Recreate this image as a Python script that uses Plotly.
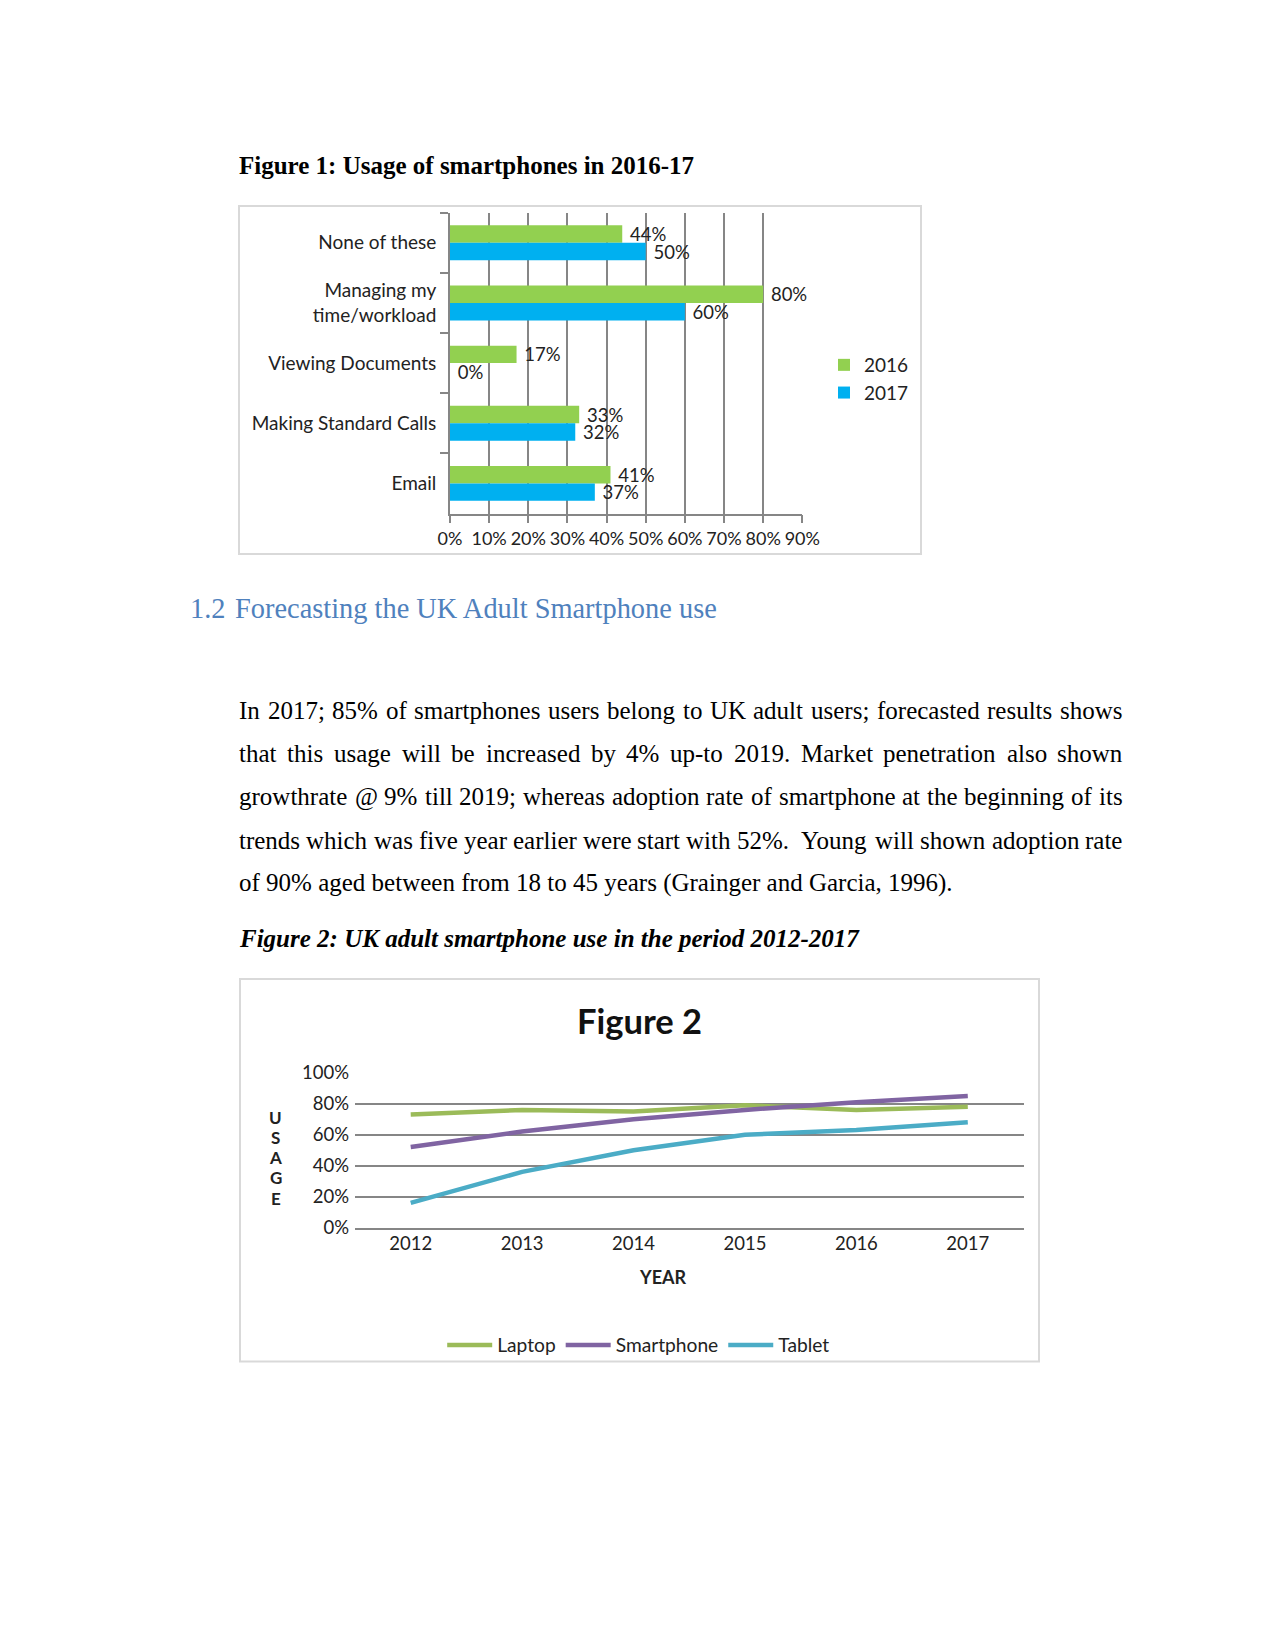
import plotly.graph_objects as go

W, H = 1275, 1651


def px(x):
    return x / W


def py(y):
    return 1 - y / H


# ---------------- data ----------------
fig1_categories = ["None of these", "Managing my<br>time/workload", "Viewing Documents",
                   "Making Standard Calls", "Email"]
fig1_2016 = [0.44, 0.80, 0.17, 0.33, 0.41]
fig1_2017 = [0.50, 0.60, 0.00, 0.32, 0.37]

fig2_years = ["2012", "2013", "2014", "2015", "2016", "2017"]
fig2_laptop = [0.73, 0.76, 0.75, 0.79, 0.76, 0.78]
fig2_smartphone = [0.52, 0.62, 0.70, 0.76, 0.81, 0.85]
fig2_tablet = [0.16, 0.36, 0.50, 0.60, 0.63, 0.68]

paragraph_lines = [
    "In 2017; 85% of smartphones users belong to UK adult users; forecasted results shows",
    "that this usage will be increased by 4% up-to 2019. Market penetration also shown",
    "growthrate @ 9% till 2019; whereas adoption rate of smartphone at the beginning of its",
    "trends which was five year earlier were start with 52%.  Young will shown adoption rate",
    "of 90% aged between from 18 to 45 years (Grainger and Garcia, 1996).",
]

# ---------------- styles ----------------
CHART_FONT = "Lato"
DOC_FONT = "Liberation Serif"
TXT = "#222222"
GRID = "#868686"
BOX = "#D9D9D9"

fig = go.Figure()

# Figure 1 bars
for name, vals, col in [("2016", fig1_2016, "#92D050"), ("2017", fig1_2017, "#00B0F0")]:
    fig.add_trace(go.Bar(
        y=fig1_categories, x=vals, orientation="h", name=name,
        marker=dict(color=col, line=dict(width=0)),
        texttemplate="\u00a0%{x:.0%}", textposition="outside", constraintext="none",
        textfont=dict(family=CHART_FONT, size=18.5, color=TXT), cliponaxis=False,
        xaxis="x", yaxis="y", legend="legend", hoverinfo="skip"))

# Figure 2 lines
for name, vals, col in [("Laptop", fig2_laptop, "#9BBB59"),
                        ("Smartphone", fig2_smartphone, "#8064A2"),
                        ("Tablet", fig2_tablet, "#4BACC6")]:
    fig.add_trace(go.Scatter(
        x=fig2_years, y=vals, mode="lines", name=name,
        line=dict(color=col, width=4.5), cliponaxis=False,
        xaxis="x2", yaxis="y2", legend="legend2", hoverinfo="skip"))

# ---------------- text ----------------
annotations = []


def add_text(text, x, y, size, family, color="black", xanchor="left"):
    annotations.append(dict(
        text=text, x=px(x), y=py(y), xref="paper", yref="paper",
        xanchor=xanchor, yanchor="middle", showarrow=False,
        borderpad=0, borderwidth=0,
        font=dict(family=family, size=size, color=color)))


# Times / Liberation Serif advance widths (per 1000 em)
TW = {' ': 250, '!': 333, '%': 833, '(': 333, ')': 333, ',': 250, '-': 333, '.': 250,
      ';': 278, ':': 278, '@': 921,
      'A': 722, 'B': 667, 'C': 667, 'D': 722, 'E': 611, 'F': 556, 'G': 722, 'H': 722,
      'I': 333, 'J': 389, 'K': 722, 'L': 611, 'M': 889, 'N': 722, 'O': 722, 'P': 556,
      'Q': 722, 'R': 667, 'S': 556, 'T': 611, 'U': 722, 'V': 722, 'W': 944, 'X': 722,
      'Y': 722, 'Z': 611,
      'a': 444, 'b': 500, 'c': 444, 'd': 500, 'e': 444, 'f': 333, 'g': 500, 'h': 500,
      'i': 278, 'j': 278, 'k': 500, 'l': 278, 'm': 778, 'n': 500, 'o': 500, 'p': 500,
      'q': 500, 'r': 333, 's': 389, 't': 278, 'u': 500, 'v': 500, 'w': 722, 'x': 500,
      'y': 500, 'z': 444}
for d in "0123456789":
    TW[d] = 500


def text_width(s, size):
    return sum(TW.get(c, 500) for c in s) * size / 1000.0


# Figure 1 caption
add_text("<b>Figure 1: Usage of smartphones in 2016-17</b>", 239.3, 165.5, 25, DOC_FONT)

# Heading
HEAD_C = "#4F81BD"
add_text("1.2", 189.5, 608.2, 28.4, DOC_FONT, HEAD_C)
add_text("Forecasting the UK Adult Smartphone use", 235, 608.2, 28.4, DOC_FONT, HEAD_C)

# Justified paragraph
P_LEFT, P_RIGHT, P_SIZE = 239.3, 1122.7, 25
line_centers = [710.4, 753.6, 796.8, 840.0, 883.2]
for i, (line, yc) in enumerate(zip(paragraph_lines, line_centers)):
    if i == len(paragraph_lines) - 1:
        add_text(line, P_LEFT, yc, P_SIZE, DOC_FONT)
        continue
    words = line.split(" ")
    widths = [text_width(w, P_SIZE) for w in words]
    gap = (P_RIGHT - P_LEFT - sum(widths)) / (len(words) - 1)
    cx = P_LEFT
    for w, wd in zip(words, widths):
        if w:
            add_text(w, cx, yc, P_SIZE, DOC_FONT)
        cx += wd + gap

# Figure 2 caption
add_text("<b><i>Figure 2: UK adult smartphone use in the period 2012-2017</i></b>",
         239.3, 938.8, 25, DOC_FONT)

# Figure 2 chart title and axis titles
add_text("<b>Figure 2</b>", 639, 1021, 34.5, CHART_FONT, "#111111", xanchor="center")
add_text("<b>YEAR</b>", 663, 1276.5, 18, CHART_FONT, TXT, xanchor="center")
for k, letter in enumerate("USAGE"):
    add_text("<b>%s</b>" % letter, 275.7, 1117 + k * 20.25, 17, CHART_FONT, TXT,
             xanchor="center")

# ---------------- boxes ----------------
shapes = [
    dict(type="rect", xref="paper", yref="paper", x0=px(239), x1=px(921),
         y0=py(206), y1=py(554), line=dict(color=BOX, width=2), fillcolor="rgba(0,0,0,0)",
         layer="below"),
    dict(type="rect", xref="paper", yref="paper", x0=px(240), x1=px(1039),
         y0=py(979), y1=py(1361.5), line=dict(color=BOX, width=2),
         fillcolor="rgba(0,0,0,0)", layer="below"),
]

fig.update_layout(
    width=W, height=H, autosize=False,
    margin=dict(l=0, r=0, t=0, b=0, pad=0, autoexpand=False),
    paper_bgcolor="white", plot_bgcolor="white",
    font=dict(family=CHART_FONT, color=TXT),
    barmode="group", bargap=0.42, bargroupgap=0,
    hovermode=False,
    annotations=annotations, shapes=shapes,
    xaxis=dict(
        domain=[px(450), px(802.3)], range=[0, 0.9], dtick=0.1, tick0=0,
        tickformat=".0%", showgrid=True, gridcolor=GRID, gridwidth=1.8,
        showline=True, linecolor=GRID, linewidth=1.8, zeroline=False,
        ticks="outside", ticklen=8, tickwidth=1.8, tickcolor=GRID, tickangle=0,
        tickfont=dict(family=CHART_FONT, size=18, color=TXT), automargin=False,
        anchor="y", fixedrange=True),
    yaxis=dict(
        domain=[py(513.5), py(212.7)], type="category", autorange="reversed",
        showline=True, linecolor=GRID, linewidth=1.8, showgrid=False,
        ticks="outside", tickson="boundaries", ticklen=8, tickwidth=1.8,
        tickcolor=GRID, ticklabelstandoff=8, automargin=False,
        tickfont=dict(family=CHART_FONT, size=19, color=TXT),
        anchor="x", fixedrange=True),
    xaxis2=dict(
        domain=[px(355), px(1023.5)], type="category", range=[-0.5, 5.5],
        showgrid=False, showline=True, linecolor=GRID, linewidth=1.8,
        ticks="", tickangle=0, ticklabelstandoff=-2,
        tickfont=dict(family=CHART_FONT, size=18.5, color=TXT),
        automargin=False, anchor="y2", fixedrange=True),
    yaxis2=dict(
        domain=[py(1227.7), py(1072.7)], range=[0, 1], dtick=0.2, tick0=0,
        tickformat=".0%", showgrid=True, gridcolor=GRID, gridwidth=1.8,
        zeroline=False, showline=False, ticks="", ticklabelstandoff=5,
        tickfont=dict(family=CHART_FONT, size=18.5, color=TXT), automargin=False,
        anchor="x2", fixedrange=True),
    legend=dict(
        x=px(824), y=py(379), xanchor="left", yanchor="middle",
        orientation="v", bgcolor="rgba(0,0,0,0)", borderwidth=0,
        font=dict(family=CHART_FONT, size=19, color=TXT)),
    legend2=dict(
        x=px(638.7), y=py(1345), xanchor="center", yanchor="middle",
        orientation="h", bgcolor="rgba(0,0,0,0)", borderwidth=0, itemwidth=45,
        font=dict(family=CHART_FONT, size=19.2, color=TXT)),
)

fig.write_html("out.html", config={"displayModeBar": False},
               post_script="document.body.style.margin='0';document.body.style.overflow='hidden';")
